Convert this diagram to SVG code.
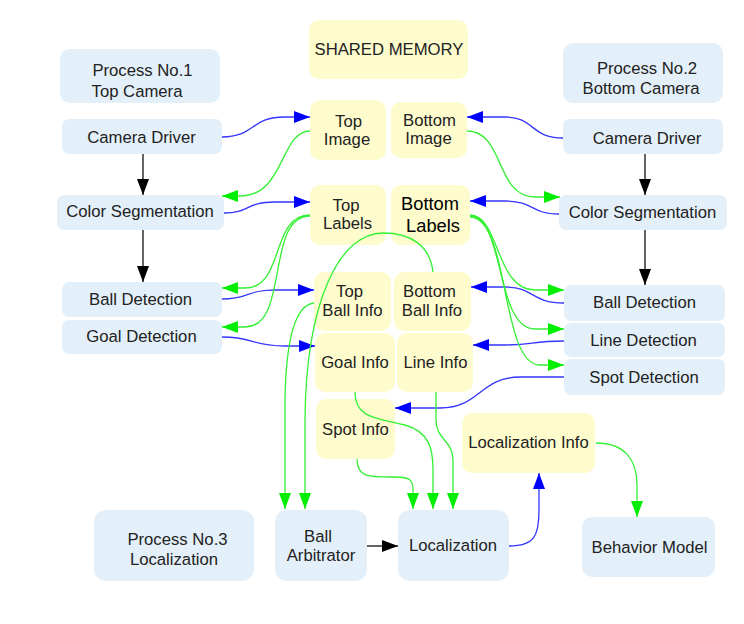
<svg xmlns="http://www.w3.org/2000/svg" width="744" height="624" viewBox="0 0 744 624">
<style>
.b{fill:#e4f0f9;stroke:none}
.y{fill:#fefccd;stroke:none}
text{font-family:"Liberation Sans",Arial,sans-serif;font-size:16.7px;fill:#222;text-anchor:middle}
.big{font-size:18.3px;fill:#000}
.cb{fill:none;stroke:#3535ff;stroke-width:1.3}
.cg{fill:none;stroke:#33f033;stroke-width:1.3}
.ck{fill:none;stroke:#111;stroke-width:1.3}
</style>
<defs>
<marker id="ab" markerUnits="userSpaceOnUse" markerWidth="17" markerHeight="12" refX="16" refY="6" orient="auto"><path d="M0,0 L16,6 L0,12 z" fill="#0000ff"/></marker>
<marker id="ag" markerUnits="userSpaceOnUse" markerWidth="17" markerHeight="12" refX="16" refY="6" orient="auto"><path d="M0,0 L16,6 L0,12 z" fill="#00ee00"/></marker>
<marker id="ak" markerUnits="userSpaceOnUse" markerWidth="17" markerHeight="12" refX="16" refY="6" orient="auto"><path d="M0,0 L16,6 L0,12 z" fill="#000"/></marker>
</defs>
<rect width="744" height="624" fill="#fff"/>

<g id="shared-memory"><rect class="y" x="309" y="20" width="159" height="59" rx="10"/><text x="389" y="55">SHARED MEMORY</text></g>
<g id="process1"><rect class="b" x="60" y="49" width="160" height="54" rx="10"/><text x="142.5" y="76">Process No.1</text><text x="137" y="97">Top Camera</text></g>
<g id="camera-driver-l"><rect class="b" x="62" y="119" width="160" height="35" rx="7"/><text x="141.5" y="143">Camera Driver</text></g>
<g id="color-seg-l"><rect class="b" x="57" y="195" width="167" height="35" rx="7"/><text x="140" y="217">Color Segmentation</text></g>
<g id="ball-det-l"><rect class="b" x="62" y="282" width="160" height="35" rx="7"/><text x="140.5" y="305">Ball Detection</text></g>
<g id="goal-det"><rect class="b" x="62" y="320" width="160" height="34" rx="7"/><text x="141.5" y="342">Goal Detection</text></g>
<g id="process2"><rect class="b" x="563" y="43" width="160" height="60" rx="10"/><text x="647" y="74">Process No.2</text><text x="641" y="94">Bottom Camera</text></g>
<g id="camera-driver-r"><rect class="b" x="563" y="119" width="160" height="35" rx="7"/><text x="647" y="144">Camera Driver</text></g>
<g id="color-seg-r"><rect class="b" x="559" y="195" width="168" height="35" rx="7"/><text x="642.5" y="218">Color Segmentation</text></g>
<g id="ball-det-r"><rect class="b" x="564" y="285" width="161" height="36" rx="7"/><text x="644.5" y="308">Ball Detection</text></g>
<g id="line-det"><rect class="b" x="564" y="323" width="161" height="34" rx="7"/><text x="643.5" y="346">Line Detection</text></g>
<g id="spot-det"><rect class="b" x="564" y="359" width="161" height="36" rx="7"/><text x="644" y="383">Spot Detection</text></g>
<g id="top-image"><rect class="y" x="310" y="100" width="76" height="60" rx="10"/><text x="348.5" y="127">Top</text><text x="347" y="145">Image</text></g>
<g id="bottom-image"><rect class="y" x="391" y="102" width="76" height="56" rx="10"/><text x="429.5" y="126">Bottom</text><text x="428.5" y="144">Image</text></g>
<g id="top-labels"><rect class="y" x="310" y="185" width="76" height="60" rx="10"/><text x="346" y="211">Top</text><text x="347.5" y="229">Labels</text></g>
<g id="bottom-labels"><rect class="y" x="391" y="185" width="79" height="60" rx="10"/><text class="big" x="430" y="210">Bottom</text><text class="big" x="433" y="232">Labels</text></g>
<g id="top-ball-info"><rect class="y" x="314" y="272" width="77" height="59" rx="10"/><text x="349.5" y="297">Top</text><text x="352.5" y="316">Ball Info</text></g>
<g id="bottom-ball-info"><rect class="y" x="394" y="272" width="77" height="59" rx="10"/><text x="429.5" y="297">Bottom</text><text x="432" y="316">Ball Info</text></g>
<g id="goal-info"><rect class="y" x="315" y="333" width="80" height="59" rx="10"/><text x="355" y="368">Goal Info</text></g>
<g id="line-info"><rect class="y" x="397" y="333" width="76" height="59" rx="10"/><text x="435.5" y="368">Line Info</text></g>
<g id="spot-info"><rect class="y" x="316" y="399" width="79" height="60" rx="10"/><text x="355.5" y="435">Spot Info</text></g>
<g id="localization-info"><rect class="y" x="462" y="413" width="133" height="60" rx="10"/><text x="528.5" y="448">Localization Info</text></g>
<g id="process3"><rect class="b" x="94" y="510" width="160" height="71" rx="12"/><text x="177.5" y="545">Process No.3</text><text x="174" y="565">Localization</text></g>
<g id="ball-arbitrator"><rect class="b" x="275" y="510" width="92" height="71" rx="12"/><text x="318" y="542">Ball</text><text x="321" y="561">Arbitrator</text></g>
<g id="localization"><rect class="b" x="398" y="510" width="111" height="71" rx="12"/><text x="453" y="551">Localization</text></g>
<g id="behavior-model"><rect class="b" x="582" y="517" width="133" height="60" rx="10"/><text x="649.5" y="553">Behavior Model</text></g>

<g id="connectors">
<path class="ck" d="M143,154 L143,195" marker-end="url(#ak)"/>
<path class="ck" d="M143,230 L143,282" marker-end="url(#ak)"/>
<path class="ck" d="M645,154 L645,195" marker-end="url(#ak)"/>
<path class="ck" d="M645,230 L645,285" marker-end="url(#ak)"/>
<path class="ck" d="M367,546 L398,546" marker-end="url(#ak)"/>

<path class="cb" d="M222,137 C255,137 250,117 285,117 L310,117" marker-end="url(#ab)"/>
<path class="cb" d="M224,213 C250,213 245,202 275,202 L310,202" marker-end="url(#ab)"/>
<path class="cb" d="M222,299 C250,299 245,290 275,290 L314,290" marker-end="url(#ab)"/>
<path class="cb" d="M222,337 C255,337 250,346 285,346 L315,346" marker-end="url(#ab)"/>
<path class="cb" d="M563,138 C530,138 535,117 505,117 L467,117" marker-end="url(#ab)"/>
<path class="cb" d="M559,214 C530,214 535,201 505,201 L470,201" marker-end="url(#ab)"/>
<path class="cb" d="M564,303 C530,303 535,287 505,287 L471,287" marker-end="url(#ab)"/>
<path class="cb" d="M564,341 C530,341 535,345 505,345 L473,345" marker-end="url(#ab)"/>
<path class="cb" d="M564,377 L520,377 C480,377 480,408 440,408 L395,408" marker-end="url(#ab)"/>
<path class="cb" d="M509,546 C535,546 539,535 539,510 L539,473" marker-end="url(#ab)"/>

<path class="cg" d="M310,131 C280,131 285,196 240,196 L222,196" marker-end="url(#ag)"/>
<path class="cg" d="M467,131 C505,131 495,197 535,197 L560,197" marker-end="url(#ag)"/>
<path class="cg" d="M310,215 C270,215 285,288 245,288 L222,288" marker-end="url(#ag)"/>
<path class="cg" d="M310,216 C265,216 290,327 245,327 L222,327" marker-end="url(#ag)"/>
<path class="cg" d="M470,215 C500,215 495,290 535,290 L564,290" marker-end="url(#ag)"/>
<path class="cg" d="M470,216 C505,216 495,329 535,329 L564,329" marker-end="url(#ag)"/>
<path class="cg" d="M470,217 C510,217 500,365 540,365 L564,365" marker-end="url(#ag)"/>
<path class="cg" d="M314,303 C295,305 286,340 285,400 L285,509" marker-end="url(#ag)"/>
<path class="cg" d="M433,272 C430,245 410,233 383,233 C340,233 306,300 305,420 L305,509" marker-end="url(#ag)"/>
<path class="cg" d="M355,392 C355,420 380,418 405,425 C430,432 433,450 433,470 L433,509" marker-end="url(#ag)"/>
<path class="cg" d="M357,459 C357,478 370,477 395,477 C410,477 413,480 413,490 L413,509" marker-end="url(#ag)"/>
<path class="cg" d="M436,392 L436,420 C436,440 453,440 453,460 L453,509" marker-end="url(#ag)"/>
<path class="cg" d="M596,443 C625,443 637,460 637,485 L637,517" marker-end="url(#ag)"/>
</g>
</svg>
